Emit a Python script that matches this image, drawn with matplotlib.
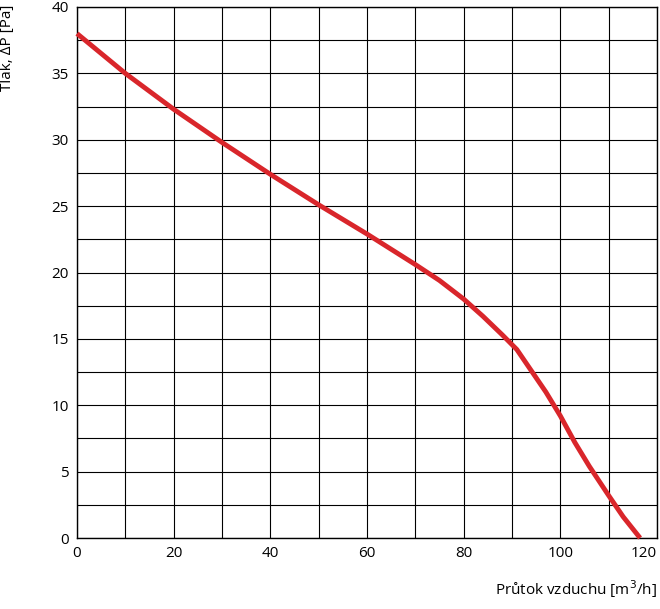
import matplotlib
matplotlib.use('Agg')
import matplotlib.pyplot as plt
import numpy as np

plt.rcParams['font.family'] = ['Open Sans', 'DejaVu Sans']

# fan curve
flow = [0, 10, 20, 30, 40, 50, 60, 70, 75, 80, 84, 88, 91, 94, 97, 100, 103, 106, 110, 113, 116.5]
pressure = [38, 35, 32.3, 29.8, 27.4, 25.1, 22.9, 20.6, 19.4, 18.0, 16.7, 15.3, 14.2, 12.6, 11.0, 9.2, 7.2, 5.4, 3.2, 1.6, 0]

fig = plt.figure(figsize=(6.6, 6.09), dpi=100)
ax = fig.add_axes([77/660, 71/609, 580/660, 531/609])

ax.plot(flow, pressure, color='#d9262b', lw=3.5, solid_capstyle='butt',
        solid_joinstyle='round', clip_on=False, zorder=3)

ax.set_xlim(0, 120)
ax.set_ylim(0, 40)
ax.set_xticks(np.arange(0, 121, 20))
ax.set_xticks(np.arange(0, 121, 10), minor=True)
ax.set_yticks(np.arange(0, 41, 5))
ax.set_yticks(np.arange(0, 41, 2.5), minor=True)
ax.grid(True, which='both', color='black', lw=0.8)
ax.tick_params(which='both', length=0, labelsize=11, pad=6)
ax.get_xticklabels()[-1].set_horizontalalignment('right')
for s in ax.spines.values():
    s.set_linewidth(1.0)

fig.text(8/660, 1 - 5/609, 'Tlak, ΔP [Pa]', rotation=90, ha='center', va='top', fontsize=11)
fig.text(1 - 3/660, 1 - 600/609, 'Průtok vzduchu [m$^3$/h]', ha='right', va='bottom', fontsize=11)

fig.savefig('out.png', dpi=100)
